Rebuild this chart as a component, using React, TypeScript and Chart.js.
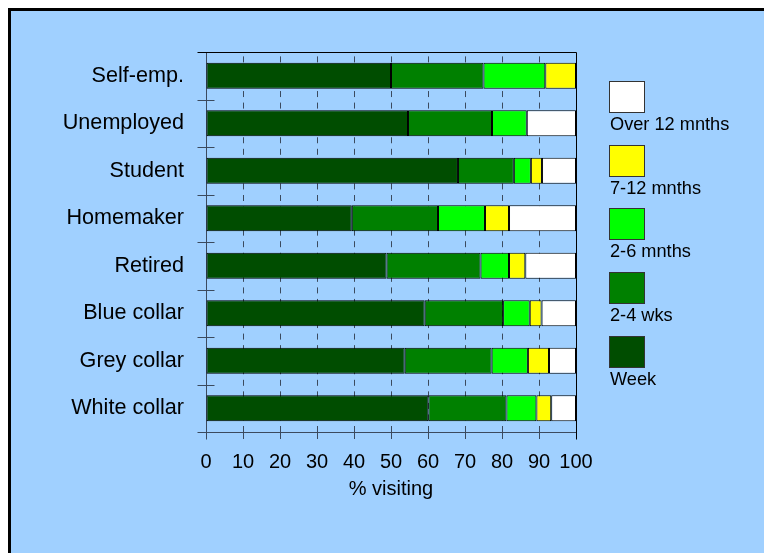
import React, { useEffect, useRef } from "react";
import { Chart, registerables } from "chart.js";

Chart.register(...registerables);

const categories = ["Self-emp.", "Unemployed", "Student", "Homemaker", "Retired", "Blue collar", "Grey collar", "White collar"];
const week = [50.0, 54.6, 68.1, 39.4, 48.8, 59.1, 53.7, 60.1];
const twoToFourWks = [25.0, 22.7, 15.1, 23.3, 25.4, 21.2, 23.5, 21.1];
const twoToSixMnths = [16.7, 9.4, 4.6, 12.7, 7.7, 7.2, 9.8, 8.1];
const sevenToTwelveMnths = [8.3, 0, 3.0, 6.5, 4.4, 3.2, 5.7, 4.0];
const over12Mnths = [0, 13.3, 9.2, 18.1, 13.7, 9.3, 7.3, 6.7];

const seriesNames = ["Week", "2-4 wks", "2-6 mnths", "7-12 mnths", "Over 12 mnths"];
const seriesColors = ["#004d00", "#008000", "#00ff00", "#ffff00", "#ffffff"];
const xTickValues = [0, 10, 20, 30, 40, 50, 60, 70, 80, 90, 100];
const xTitle = "% visiting";

const BG = "#a0d0ff";
const AXIS_GREY = "#3b4a5e";
const FONT = "'Liberation Sans', Arial, Helvetica, sans-serif";

const framePlugin = {
  id: "frameLines",
  beforeDatasetsDraw(chart: any) {
    const { ctx, chartArea: a, scales } = chart;
    const y = scales.y;
    const L = Math.round(a.left) + 0.5;
    const R = Math.round(a.right) + 0.5;
    const T = Math.round(a.top) + 0.5;
    const B = Math.round(a.bottom) + 0.5;
    ctx.save();
    ctx.lineWidth = 1;
    ctx.strokeStyle = AXIS_GREY;
    ctx.beginPath();
    ctx.moveTo(L, T);
    ctx.lineTo(L, B + 7);
    ctx.moveTo(L - 9, B);
    ctx.lineTo(R, B);
    const n = y.ticks.length;
    for (let i = 1; i < n; i++) {
      const b = Math.round((y.getPixelForTick(i - 1) + y.getPixelForTick(i)) / 2) + 0.5;
      ctx.moveTo(L - 9, b);
      ctx.lineTo(L + 8, b);
    }
    ctx.stroke();
    ctx.strokeStyle = "#000";
    ctx.beginPath();
    ctx.moveTo(L - 9, T);
    ctx.lineTo(R, T);
    ctx.moveTo(R, T);
    ctx.lineTo(R, B + 7);
    ctx.stroke();
    ctx.restore();
  },
};

export default function App() {
  const ref = useRef<HTMLCanvasElement | null>(null);

  useEffect(() => {
    if (!ref.current) return;
    const seriesData = [week, twoToFourWks, twoToSixMnths, sevenToTwelveMnths, over12Mnths];
    const chart = new Chart(ref.current, {
      type: "bar",
      data: {
        labels: categories,
        datasets: seriesData.map((d, i) => ({
          label: seriesNames[i],
          data: d,
          backgroundColor: seriesColors[i],
          borderColor: "#000",
          borderWidth: 1,
          borderSkipped: false,
          barPercentage: 0.55,
          categoryPercentage: 1,
        })),
      },
      options: {
        indexAxis: "y",
        responsive: false,
        animation: false,
        layout: { padding: { top: 41, right: 188, left: 0, bottom: 0 } },
        plugins: { legend: { display: false }, tooltip: { enabled: false }, title: { display: false } },
        scales: {
          x: {
            type: "linear",
            stacked: true,
            min: 0,
            max: 100,
            afterBuildTicks: (s: any) => {
              s.ticks = xTickValues.map((v) => ({ value: v }));
            },
            afterFit: (s: any) => {
              s.height = 121;
            },
            grid: {
              display: true,
              color: AXIS_GREY,
              lineWidth: 1,
              drawTicks: true,
              tickLength: 7,
              tickColor: AXIS_GREY,
            },
            border: { display: false, dash: [6, 5.55], dashOffset: 7.15 },
            ticks: {
              color: "#000",
              font: { family: FONT, size: 20 },
              padding: 11,
              maxRotation: 0,
              autoSkip: false,
            },
            title: {
              display: true,
              text: xTitle,
              color: "#000",
              font: { family: FONT, size: 20 },
              padding: { top: 0, bottom: 52 },
            },
          },
          y: {
            type: "category",
            stacked: true,
            afterFit: (s: any) => {
              s.width = 195;
            },
            grid: { display: false, drawTicks: false },
            border: { display: false },
            ticks: {
              color: "#000",
              font: { family: FONT, size: 21.6 },
              padding: 22,
            },
          },
        },
      },
      plugins: [framePlugin],
    } as any);
    return () => chart.destroy();
  }, []);

  const legendItems = seriesNames.map((n, i) => ({ name: n, color: seriesColors[i] })).reverse();

  return (
    <div
      style={{
        position: "fixed",
        left: 8,
        top: 8,
        width: 756,
        height: 545,
        boxSizing: "border-box",
        borderTop: "3px solid #000",
        borderLeft: "3px solid #000",
        background: BG,
        overflow: "hidden",
      }}
    >
      <canvas ref={ref} width={753} height={542} style={{ position: "absolute", left: 0, top: 0, width: 753, height: 542 }} />
      {legendItems.map((it, i) => (
        <div key={it.name} style={{ position: "absolute", left: 598, top: 70 + i * 63.7 }}>
          <div
            style={{
              width: 36,
              height: 32,
              boxSizing: "border-box",
              border: "1px solid #333",
              background: it.color,
            }}
          />
          <div
            style={{
              position: "absolute",
              left: 1,
              top: 33,
              whiteSpace: "nowrap",
              fontFamily: FONT,
              fontSize: 18.2,
              lineHeight: "20px",
              color: "#000",
            }}
          >
            {it.name}
          </div>
        </div>
      ))}
    </div>
  );
}
